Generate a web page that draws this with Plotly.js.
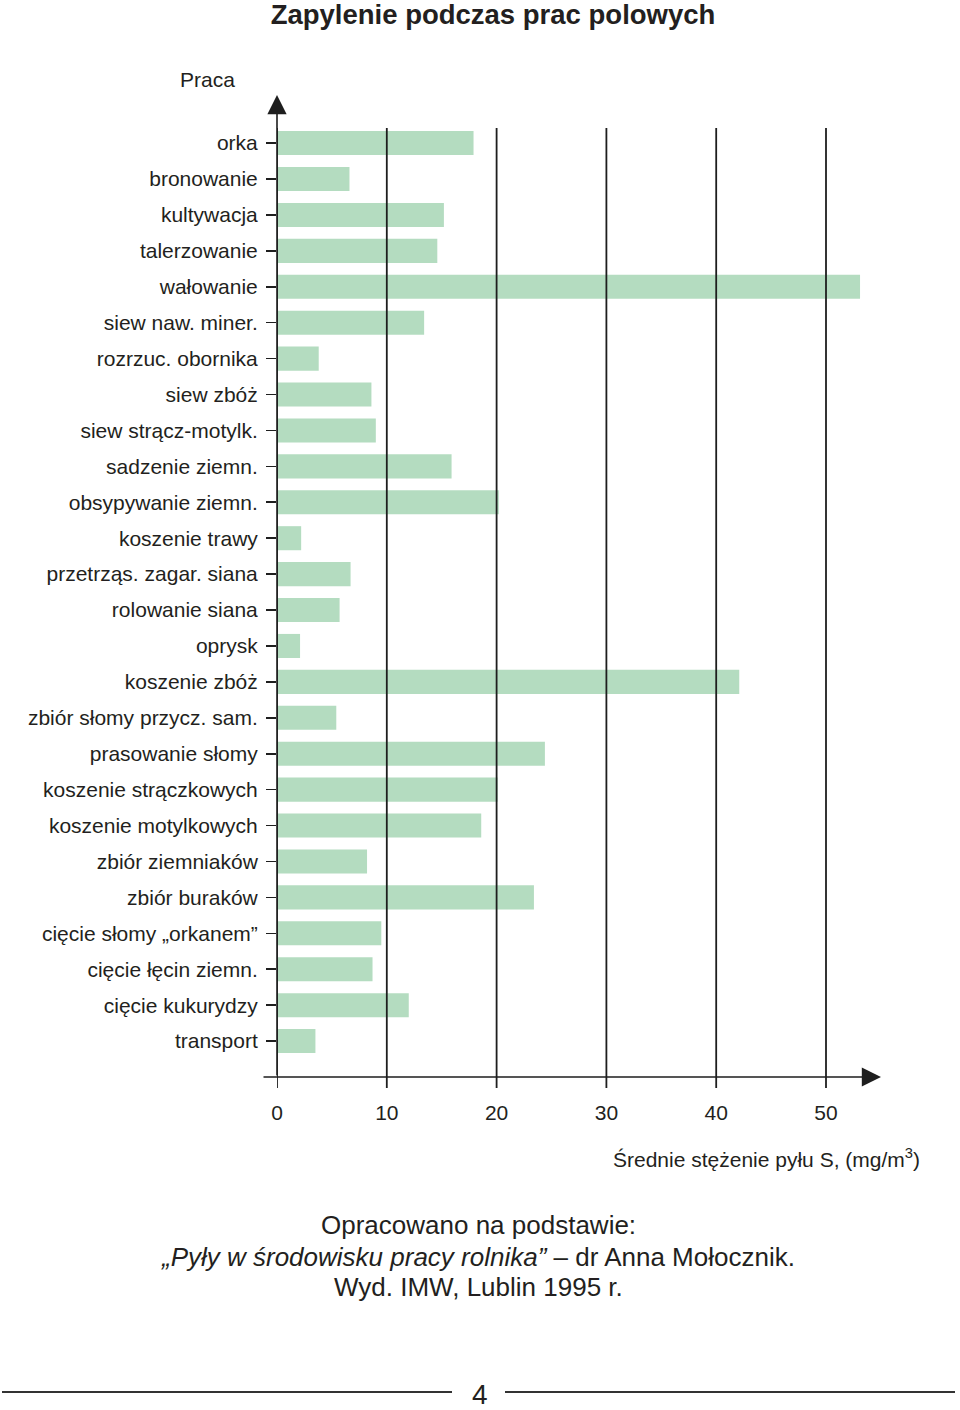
<!DOCTYPE html>
<html>
<head>
<meta charset="utf-8">
<script src="https://cdn.plot.ly/plotly-3.0.1.min.js"></script>
<style>
  html, body { margin: 0; padding: 0; background: #ffffff; }
  #chart { width: 960px; height: 1410px; }
</style>
</head>
<body>
<div id="chart"></div>
<script>

// =========================
// DATA
// =========================

const prace = [
  "orka",
  "bronowanie",
  "kultywacja",
  "talerzowanie",
  "wałowanie",
  "siew naw. miner.",
  "rozrzuc. obornika",
  "siew zbóż",
  "siew strącz-motylk.",
  "sadzenie ziemn.",
  "obsypywanie ziemn.",
  "koszenie trawy",
  "przetrząs. zagar. siana",
  "rolowanie siana",
  "oprysk",
  "koszenie zbóż",
  "zbiór słomy przycz. sam.",
  "prasowanie słomy",
  "koszenie strączkowych",
  "koszenie motylkowych",
  "zbiór ziemniaków",
  "zbiór buraków",
  "cięcie słomy „orkanem”",
  "cięcie łęcin ziemn.",
  "cięcie kukurydzy",
  "transport"
];

const stezenie = [
  17.9, 6.6, 15.2, 14.6, 53.1, 13.4, 3.8, 8.6, 9.0, 15.9,
  20.2, 2.2, 6.7, 5.7, 2.1, 42.1, 5.4, 24.4, 20.1, 18.6,
  8.2, 23.4, 9.5, 8.7, 12.0, 3.5
];

const xTicks = [0, 10, 20, 30, 40, 50];

// =========================
// HELPERS
// =========================

// pixel -> paper (plot area: x 277..882, y 128..1077)
function px(x) { return (x - 277) / 605; }
function py(y) { return (1077 - y) / 949; }

const font = "Liberation Sans, Arial, Helvetica, sans-serif";
const ink = "#231f20";

function label(text, x, y, size, anchor) {
  return {
    xref: "paper", yref: "paper",
    x: px(x), y: py(y),
    xanchor: anchor || "center",
    yanchor: "middle",
    text: text,
    showarrow: false,
    font: { family: font, size: size, color: ink }
  };
}

// =========================
// TRACE
// =========================

let bars = {
  type: "bar",
  orientation: "h",
  y: prace,
  x: stezenie,
  marker: { color: "#b4dcc0", line: { width: 0 } },
  hoverinfo: "x+y"
};

// =========================
// GRID (linie pionowe)
// =========================

let shapes = xTicks.map(v => ({
  type: "line",
  xref: "x",
  yref: "paper",
  x0: v, x1: v,
  y0: py(1088), y1: 1,
  line: { color: "#1e1e1e", width: 1.8 },
  layer: "above"
}));

// linie przy numerze strony
shapes.push({
  type: "line", xref: "paper", yref: "paper",
  x0: px(2), x1: px(452), y0: py(1392), y1: py(1392),
  line: { color: "#333333", width: 2 }
});
shapes.push({
  type: "line", xref: "paper", yref: "paper",
  x0: px(505), x1: px(955), y0: py(1392), y1: py(1392),
  line: { color: "#333333", width: 2 }
});

// =========================
// ANNOTATIONS
// =========================

let annotations = [

  // strzalka osi Y
  {
    xref: "x", yref: "paper",
    x: 0, y: py(95),
    ax: 0, ay: 982,
    text: "",
    showarrow: true,
    arrowhead: 2,
    arrowsize: 2.4,
    arrowwidth: 1.6,
    arrowcolor: "#1e1e1e"
  },

  // strzalka osi X
  {
    xref: "paper", yref: "paper",
    x: px(881), y: 0,
    ax: -(881 - 262), ay: 0,
    text: "",
    showarrow: true,
    arrowhead: 2,
    arrowsize: 2.4,
    arrowwidth: 1.6,
    arrowcolor: "#1e1e1e"
  },

  label("Praca", 207, 80, 21),
  label("Średnie stężenie pyłu S, (mg/m<sup>3</sup>)", 922, 1158, 21, "right"),
  label("Opracowano na podstawie:", 478, 1225, 26),
  label("<i>„Pyły w środowisku pracy rolnika”</i> – dr Anna Mołocznik.", 478, 1257, 26),
  label("Wyd. IMW, Lublin 1995 r.", 478, 1287, 26),
  label("4", 480, 1394, 28)

];

// =========================
// LAYOUT
// =========================

let layout = {

  width: 960,
  height: 1410,

  margin: { l: 277, r: 78, t: 128, b: 333 },

  paper_bgcolor: "#ffffff",
  plot_bgcolor: "#ffffff",

  showlegend: false,

  bargap: 0.33,

  title: {
    text: "Zapylenie podczas prac polowych",
    x: 493 / 960,
    xanchor: "center",
    y: 1 - 14 / 1410,
    yanchor: "middle",
    font: { family: font, size: 27.5, color: ink, weight: "bold" }
  },

  xaxis: {
    range: [0, 55.1],
    tickvals: xTicks,
    ticktext: xTicks.map(String),
    showgrid: false,
    zeroline: false,
    showline: false,
    ticks: "",
    ticklabelstandoff: 21,
    tickfont: { family: font, size: 21, color: ink },
    fixedrange: true
  },

  yaxis: {
    type: "category",
    range: [26.0, -0.42],
    showgrid: false,
    zeroline: false,
    showline: false,
    ticks: "outside",
    ticklen: 10,
    tickwidth: 1.6,
    tickcolor: "#1e1e1e",
    ticklabelstandoff: 4,
    tickfont: { family: font, size: 21, color: ink },
    fixedrange: true
  },

  shapes: shapes,
  annotations: annotations

};

Plotly.newPlot("chart", [bars], layout, { displayModeBar: false, staticPlot: true });

</script>
</body>
</html>
